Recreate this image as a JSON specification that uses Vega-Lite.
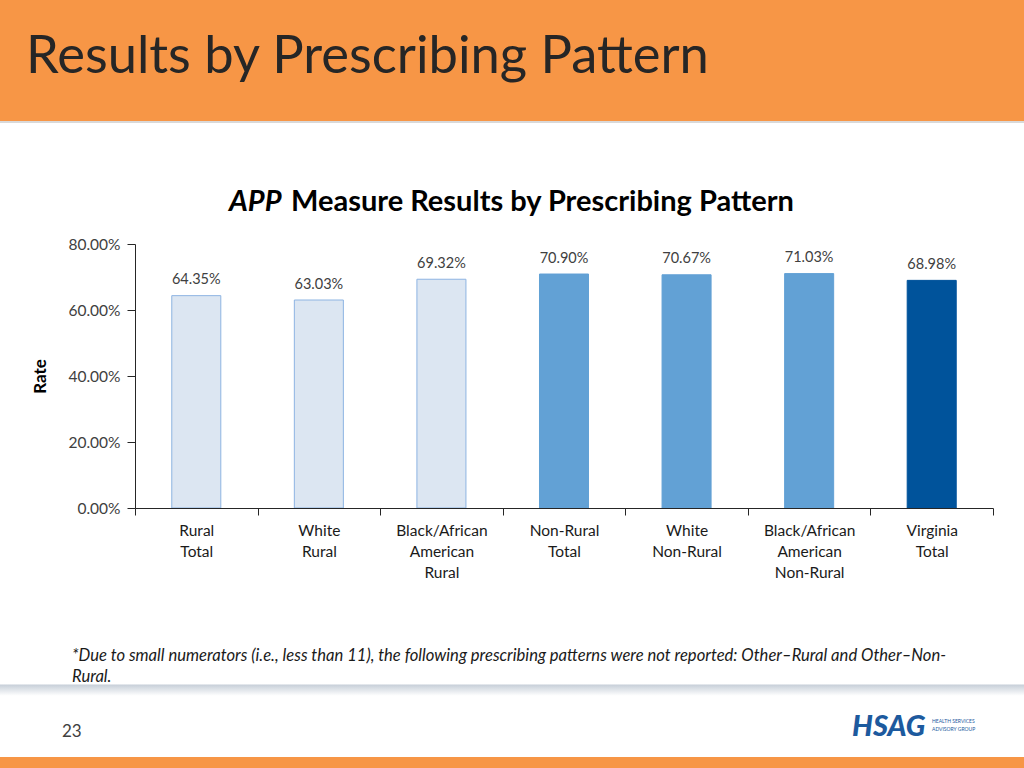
{
  "$schema": "https://vega.github.io/schema/vega-lite/v6.json",
  "width": 1024,
  "height": 768,
  "autosize": "none",
  "padding": 0,
  "background": "#ffffff",
  "config": {
    "view": {"stroke": null},
    "font": "Lato",
    "axis": {"labelFont": "Lato", "titleFont": "Lato"}
  },
  "datasets": {
    "rates": [
      {"pattern": "Rural Total", "group": "Rural", "rate": 0.6435},
      {"pattern": "White Rural", "group": "Rural", "rate": 0.6303},
      {"pattern": "Black/African American Rural", "group": "Rural", "rate": 0.6932},
      {"pattern": "Non-Rural Total", "group": "Non-Rural", "rate": 0.7090},
      {"pattern": "White Non-Rural", "group": "Non-Rural", "rate": 0.7067},
      {"pattern": "Black/African American Non-Rural", "group": "Non-Rural", "rate": 0.7103},
      {"pattern": "Virginia Total", "group": "Virginia", "rate": 0.6898}
    ]
  },
  "layer": [
    {
      "data": {"values": [{}]},
      "mark": {
        "type": "rect",
        "fill": {
          "gradient": "linear",
          "x1": 0, "y1": 0, "x2": 0, "y2": 1,
          "stops": [
            {"offset": 0, "color": "#F79646"},
            {"offset": 0.1576, "color": "#F79646"},
            {"offset": 0.1576, "color": "#D9D9D9"},
            {"offset": 0.1602, "color": "#D9D9D9"},
            {"offset": 0.1602, "color": "#FFFFFF"},
            {"offset": 0.8906, "color": "#FFFFFF"},
            {"offset": 0.8919, "color": "#C8D0D9"},
            {"offset": 0.906, "color": "#FFFFFF"},
            {"offset": 0.9857, "color": "#FFFFFF"},
            {"offset": 0.9857, "color": "#F79646"},
            {"offset": 1, "color": "#F79646"}
          ]
        }
      },
      "encoding": {}
    },
    {
      "data": {"name": "rates"},
      "mark": {"type": "bar", "width": {"band": 0.4}, "strokeWidth": 1},
      "encoding": {
        "x": {
          "field": "pattern",
          "type": "nominal",
          "sort": null,
          "scale": {"type": "band", "range": [135, 993], "paddingInner": 0, "paddingOuter": 0},
          "axis": {
            "orient": "bottom",
            "offset": -260,
            "title": null,
            "labelAngle": 0,
            "labelExpr": "split(datum.label, ' ')",
            "labelFontSize": 15.5,
            "labelLineHeight": 21,
            "labelColor": "#1a1a1a",
            "labelLimit": 0,
            "labelPadding": 8,
            "tickBand": "extent",
            "tickSize": 7,
            "tickColor": "#262626",
            "domainColor": "#262626",
            "zindex": 1
          }
        },
        "y": {
          "field": "rate",
          "type": "quantitative",
          "scale": {"domain": [0, 0.8], "range": [508, 244], "nice": false},
          "axis": {
            "orient": "left",
            "offset": -135,
            "title": "Rate",
            "titleFontSize": 17,
            "titleFontWeight": "bold",
            "titleColor": "#000000",
            "titlePadding": 18,
            "values": [0, 0.2, 0.4, 0.6, 0.8],
            "format": ".2%",
            "labelFontSize": 15.5,
            "labelColor": "#404040",
            "labelPadding": 7,
            "tickSize": 8,
            "tickColor": "#262626",
            "domainColor": "#262626",
            "grid": false,
            "zindex": 1
          }
        },
        "fill": {
          "field": "group",
          "type": "nominal",
          "scale": {"domain": ["Rural", "Non-Rural", "Virginia"], "range": ["#DCE6F2", "#62A1D5", "#00539B"]},
          "legend": null
        },
        "stroke": {
          "field": "group",
          "type": "nominal",
          "scale": {"domain": ["Rural", "Non-Rural", "Virginia"], "range": ["#8DB4E2", "#62A1D5", "#00539B"]},
          "legend": null
        }
      }
    },
    {
      "data": {"name": "rates"},
      "mark": {"type": "text", "dy": -11.5, "baseline": "alphabetic", "fontSize": 14.5, "color": "#404040"},
      "encoding": {
        "x": {"field": "pattern", "type": "nominal", "sort": null},
        "y": {"field": "rate", "type": "quantitative"},
        "text": {"field": "rate", "type": "quantitative", "format": ".2%"}
      }
    },
    {
      "data": {"values": [{"t": "Results by Prescribing Pattern"}]},
      "mark": {"type": "text", "x": 26, "y": 73, "align": "left", "baseline": "alphabetic", "fontSize": 52.5, "color": "#262626"},
      "encoding": {"text": {"field": "t", "type": "nominal"}}
    },
    {
      "data": {"values": [{"t": "APP"}]},
      "mark": {"type": "text", "x": 229, "y": 211, "align": "left", "baseline": "alphabetic", "fontSize": 29, "fontWeight": "bold", "fontStyle": "italic", "color": "#000000"},
      "encoding": {"text": {"field": "t", "type": "nominal"}}
    },
    {
      "data": {"values": [{"t": "Measure Results by Prescribing Pattern"}]},
      "mark": {"type": "text", "x": 291, "y": 211, "align": "left", "baseline": "alphabetic", "fontSize": 29, "fontWeight": "bold", "color": "#000000"},
      "encoding": {"text": {"field": "t", "type": "nominal"}}
    },
    {
      "data": {"values": [{"line1": "*Due to small numerators (i.e., less than 11), the following prescribing patterns were not reported: Other\u2013Rural and Other\u2013Non-", "line2": "Rural."}]},
      "mark": {"type": "text", "x": 72, "y": 661, "align": "left", "baseline": "alphabetic", "fontSize": 16.6, "fontStyle": "italic", "color": "#1a1a1a"},
      "encoding": {"text": {"field": "line1", "type": "nominal"}}
    },
    {
      "data": {"values": [{"line1": "*Due to small numerators (i.e., less than 11), the following prescribing patterns were not reported: Other\u2013Rural and Other\u2013Non-", "line2": "Rural."}]},
      "mark": {"type": "text", "x": 72, "y": 682, "align": "left", "baseline": "alphabetic", "fontSize": 16.6, "fontStyle": "italic", "color": "#1a1a1a"},
      "encoding": {"text": {"field": "line2", "type": "nominal"}}
    },
    {
      "data": {"values": [{"t": "23"}]},
      "mark": {"type": "text", "x": 62, "y": 737, "align": "left", "baseline": "alphabetic", "fontSize": 17, "color": "#404040"},
      "encoding": {"text": {"field": "t", "type": "nominal"}}
    },
    {
      "data": {"values": [{"t": "HSAG"}]},
      "mark": {"type": "text", "x": 852, "y": 736, "align": "left", "baseline": "alphabetic", "fontSize": 29, "fontWeight": 900, "fontStyle": "italic", "color": "#1D5A9E"},
      "encoding": {"text": {"field": "t", "type": "nominal"}}
    },
    {
      "data": {"values": [{"t": "HEALTH SERVICES"}]},
      "mark": {"type": "text", "x": 932, "y": 723, "align": "left", "baseline": "alphabetic", "fontSize": 5, "color": "#1D5A9E"},
      "encoding": {"text": {"field": "t", "type": "nominal"}}
    },
    {
      "data": {"values": [{"t": "ADVISORY GROUP"}]},
      "mark": {"type": "text", "x": 932, "y": 731, "align": "left", "baseline": "alphabetic", "fontSize": 5, "color": "#1D5A9E"},
      "encoding": {"text": {"field": "t", "type": "nominal"}}
    }
  ]
}
